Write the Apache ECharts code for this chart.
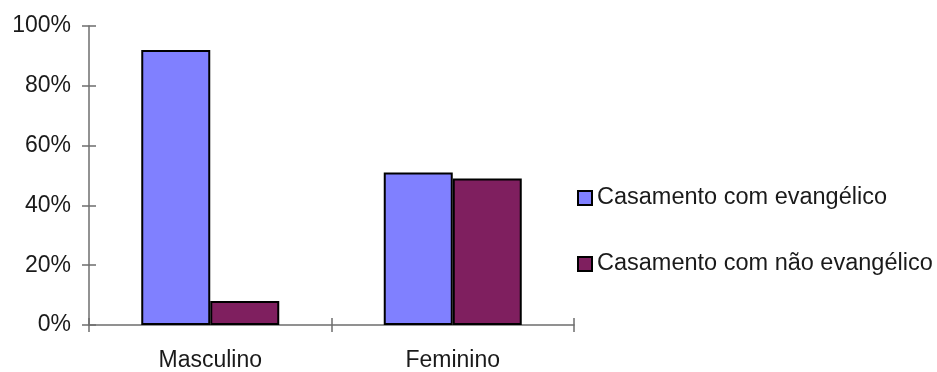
<!DOCTYPE html>
<html>
<head>
<meta charset="utf-8">
<script src="https://cdn.jsdelivr.net/npm/echarts@6/dist/echarts.min.js"></script>
<style>
  html, body { margin: 0; padding: 0; background: #fff; }
  #chart { width: 937px; height: 372px; }
</style>
</head>
<body>
<div id="chart"></div>
<script>
// Categories and shares (%) of marriages by sex
const categories = ['Masculino', 'Feminino'];
const seriesNames = ['Casamento com evangélico', 'Casamento com não evangélico'];
const comEvangelico = [92, 51];
const comNaoEvangelico = [8, 49];
const yTicks = { min: 0, max: 100, interval: 20 };

const FONT = '"Liberation Sans", Arial, sans-serif';
const TEXT = '#1a1a1a';
const AXIS = '#6e6e6e';
const FS = 23;

const chart = echarts.init(document.getElementById('chart'), null, { renderer: 'canvas' });

const valueAxisBase = {
  type: 'value',
  position: 'left',
  min: yTicks.min,
  max: yTicks.max,
  interval: yTicks.interval,
  splitLine: { show: false }
};
const catAxisBase = {
  type: 'category',
  data: categories,
  position: 'bottom',
  boundaryGap: true
};

chart.setOption({
  backgroundColor: '#ffffff',
  animation: false,
  grid: { left: 89, right: 363, top: 26, bottom: 45, containLabel: false },
  legend: {
    orient: 'vertical',
    left: 577,
    top: 186,
    padding: 0,
    itemWidth: 14,
    itemHeight: 14,
    itemGap: 42,
    icon: 'rect',
    itemStyle: { borderColor: '#000000', borderWidth: 2 },
    textStyle: { fontFamily: FONT, fontSize: 23.5, color: TEXT, lineHeight: 24, padding: [0, 0, 0, 0] },
    data: seriesNames
  },
  xAxis: [
    Object.assign({}, catAxisBase, {
      axisLine: { show: true, lineStyle: { color: AXIS, width: 1.5 } },
      axisTick: { show: true, length: 7, lineStyle: { color: AXIS, width: 1.5 } },
      axisLabel: { fontFamily: FONT, fontSize: FS, color: TEXT, margin: 24 }
    }),
    Object.assign({}, catAxisBase, {
      axisLine: { show: false },
      axisTick: { show: true, inside: true, length: 7, lineStyle: { color: AXIS, width: 1.5 } },
      axisLabel: { show: false }
    })
  ],
  yAxis: [
    Object.assign({}, valueAxisBase, {
      axisLine: { show: true, lineStyle: { color: AXIS, width: 1.5 } },
      axisTick: { show: true, length: 7, lineStyle: { color: AXIS, width: 1.5 } },
      axisLabel: { fontFamily: FONT, fontSize: FS, color: TEXT, margin: 18, formatter: '{value}%' }
    }),
    Object.assign({}, valueAxisBase, {
      axisLine: { show: false },
      axisTick: { show: true, inside: true, length: 7, lineStyle: { color: AXIS, width: 1.5 } },
      axisLabel: { show: false }
    })
  ],
  series: [
    {
      name: seriesNames[0],
      type: 'bar',
      data: comEvangelico,
      barWidth: 69,
      barGap: '0%',
      itemStyle: { color: '#8080ff', borderColor: '#000000', borderWidth: 2 }
    },
    {
      name: seriesNames[1],
      type: 'bar',
      data: comNaoEvangelico,
      barWidth: 69,
      barGap: '0%',
      itemStyle: { color: '#7f1f5f', borderColor: '#000000', borderWidth: 2 }
    }
  ]
});
</script>
</body>
</html>
